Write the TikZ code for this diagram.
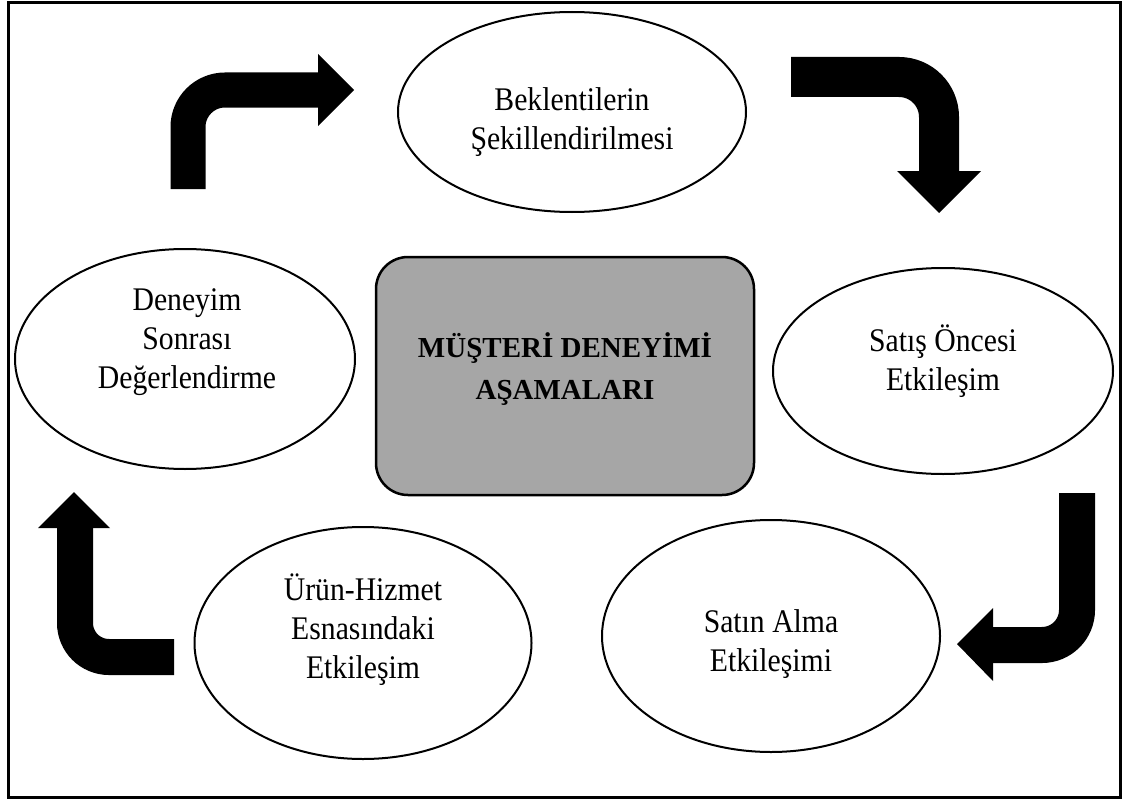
\documentclass[tikz,border=0pt]{standalone}
\usepackage{fontspec}
\setmainfont{Liberation Serif}
\newfontfamily\stagefont{Liberation Serif}[FakeStretch=0.9]
\usetikzlibrary{shapes.geometric}
\begin{document}
\begin{tikzpicture}[x=1pt,y=-1pt,
  stage/.style={ellipse, draw, line width=2pt, fill=white, inner sep=0pt},
  lbl/.style={align=center, inner sep=0pt, font=\stagefont\fontsize{33}{39}\selectfont},
  hub/.style={draw, line width=2.5pt, fill=black!35, rounded corners=32pt, inner sep=0pt},
  hublbl/.style={align=center, inner sep=0pt, font=\bfseries\fontsize{29}{42}\selectfont},
  shaft/.style={draw, line width=#1, line cap=butt, line join=miter},
  shaft/.default=36pt]
\useasboundingbox (0,0) rectangle (1125,800);
\draw[line width=3pt] (8,3) rectangle (1120,797);

% stages
\node[stage, minimum width=348pt, minimum height=200pt] (s1) at (572,112) {};
\node[stage, minimum width=340pt, minimum height=220pt] (s5) at (185,359) {};
\node[stage, minimum width=340pt, minimum height=206pt] (s2) at (943,371) {};
\node[stage, minimum width=338pt, minimum height=232pt] (s3) at (771,636) {};
\node[stage, minimum width=337pt, minimum height=232pt] (s4) at (363,643) {};
\node[hub, minimum width=378pt, minimum height=238pt] (hub) at (565,376) {};

\node[lbl] (t1) at (572,122) {Beklentilerin\\Şekillendirilmesi};
\node[lbl] (t5) at (187,342) {Deneyim\\Sonrası\\Değerlendirme};
\node[lbl] (t2) at (943,361) {Satış Öncesi\\Etkileşim};
\node[lbl] (t3) at (771,644) {Satın Alma\\Etkileşimi};
\node[lbl] (t4) at (363,630) {Ürün-Hizmet\\Esnasındaki\\Etkileşim};
\node[hublbl] (th) at (565,369) {MÜŞTERİ DENEYİMİ\\AŞAMALARI};

% arrow 1: top-left
\coordinate (a1s) at (188,189);
\coordinate (a1c) at (188,90);
\coordinate (a1e) at (320,90);
\draw[shaft=35pt, rounded corners=37pt] (a1s) -- (a1c) -- (a1e);
\fill (318,54) -- (354,90) -- (318,126) -- cycle;

% arrow 2: top-right
\coordinate (a2s) at (791,77);
\coordinate (a2c) at (939,77);
\coordinate (a2e) at (939,173);
\draw[shaft=40pt, rounded corners=40pt] (a2s) -- (a2c) -- (a2e);
\fill (897,171) -- (981,171) -- (939,213) -- cycle;

% arrow 3: bottom-right
\coordinate (a3s) at (1077,493);
\coordinate (a3c) at (1077,645);
\coordinate (a3e) at (991,645);
\draw[shaft=36pt, rounded corners=35pt] (a3s) -- (a3c) -- (a3e);
\fill (993,608) -- (957,644) -- (993,681) -- cycle;

% arrow 4: bottom-left
\coordinate (a4s) at (174,657);
\coordinate (a4c) at (75,657);
\coordinate (a4e) at (75,526);
\draw[shaft=36pt, rounded corners=34pt] (a4s) -- (a4c) -- (a4e);
\fill (38,528) -- (74,492) -- (110,528) -- cycle;
\end{tikzpicture}
\end{document}
